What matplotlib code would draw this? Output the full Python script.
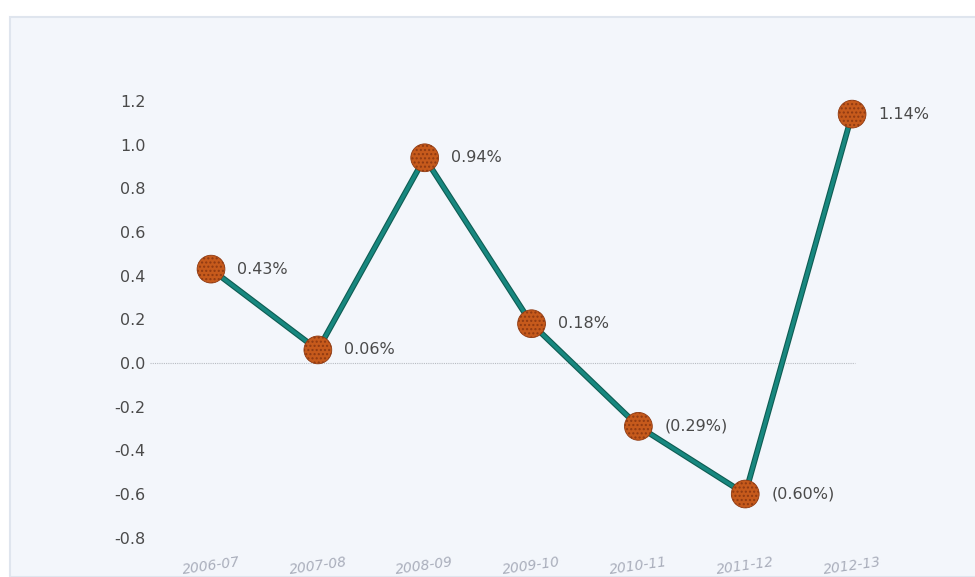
"""Line chart of annual percentage change with labelled points."""

import matplotlib

matplotlib.use("Agg")
import matplotlib.pyplot as plt
import matplotlib.patheffects as pe
from matplotlib.patches import Rectangle

# Data
PERIODS = ["2006-07", "2007-08", "2008-09", "2009-10", "2010-11", "2011-12", "2012-13"]
VALUES = [0.43, 0.06, 0.94, 0.18, -0.29, -0.60, 1.14]
POINT_LABELS = ["0.43%", "0.06%", "0.94%", "0.18%", "(0.29%)", "(0.60%)", "1.14%"]
Y_TICKS = [1.2, 1.0, 0.8, 0.6, 0.4, 0.2, 0.0, -0.2, -0.4, -0.6, -0.8]

PANEL_COLOR = "#f3f6fb"
LINE_COLOR = "#17877f"
LINE_EDGE = "#0e5c52"
MARKER_COLOR = "#c65a1c"
MARKER_EDGE = "#8f3a12"
TEXT_COLOR = "#4a4a4a"

plt.rcParams["font.family"] = "DejaVu Sans"

fig = plt.figure(figsize=(9.75, 5.77), dpi=100)
fig.patch.set_facecolor("white")

# scanned page panel behind the chart
fig.patches.append(
    Rectangle(
        (10 / 975, 0.0),
        1.0,
        (577 - 17) / 577,
        transform=fig.transFigure,
        facecolor=PANEL_COLOR,
        edgecolor="#dfe5ee",
        linewidth=1.5,
        zorder=-10,
    )
)

ax = fig.add_axes([150 / 975, 0.0, 810 / 975, (577 - 20) / 577])
ax.set_facecolor("none")

x = list(range(len(VALUES)))

ax.axhline(0.0, xmin=0.0, xmax=0.87, color="#b8bcc2", linewidth=0.8,
           linestyle=(0, (1, 1)), zorder=1)

ax.plot(
    x,
    VALUES,
    color=LINE_COLOR,
    linewidth=2.6,
    solid_capstyle="round",
    zorder=2,
    path_effects=[
        pe.Stroke(linewidth=4.2, foreground=LINE_EDGE),
        pe.Normal(),
    ],
)

ax.scatter(
    x,
    VALUES,
    s=400,
    facecolor=MARKER_COLOR,
    edgecolor=MARKER_EDGE,
    hatch="....",
    linewidth=0.6,
    zorder=3,
)

for xi, val, lab in zip(x, VALUES, POINT_LABELS):
    ax.annotate(
        lab,
        (xi, val),
        xytext=(19, 0),
        textcoords="offset points",
        ha="left",
        va="center",
        fontsize=11.5,
        color=TEXT_COLOR,
    )

# x labels sit at the cut-off bottom edge of the scan
for xi, lab in zip(x, PERIODS):
    ax.text(xi, -0.93, lab, ha="center", va="center", fontsize=10,
            color="#8a8fa0", rotation=8, style="italic", alpha=0.7)

ax.set_xlim(-0.571, 7.01)
ax.set_ylim(-0.98, 1.571)
ax.set_yticks(Y_TICKS)
ax.set_yticklabels([f"{t:.1f}" for t in Y_TICKS])
ax.set_xticks([])
ax.tick_params(axis="y", length=0, pad=3, labelsize=11.5, labelcolor=TEXT_COLOR)
for spine in ax.spines.values():
    spine.set_visible(False)

fig.savefig("out.png", dpi=100)
plt.close(fig)
